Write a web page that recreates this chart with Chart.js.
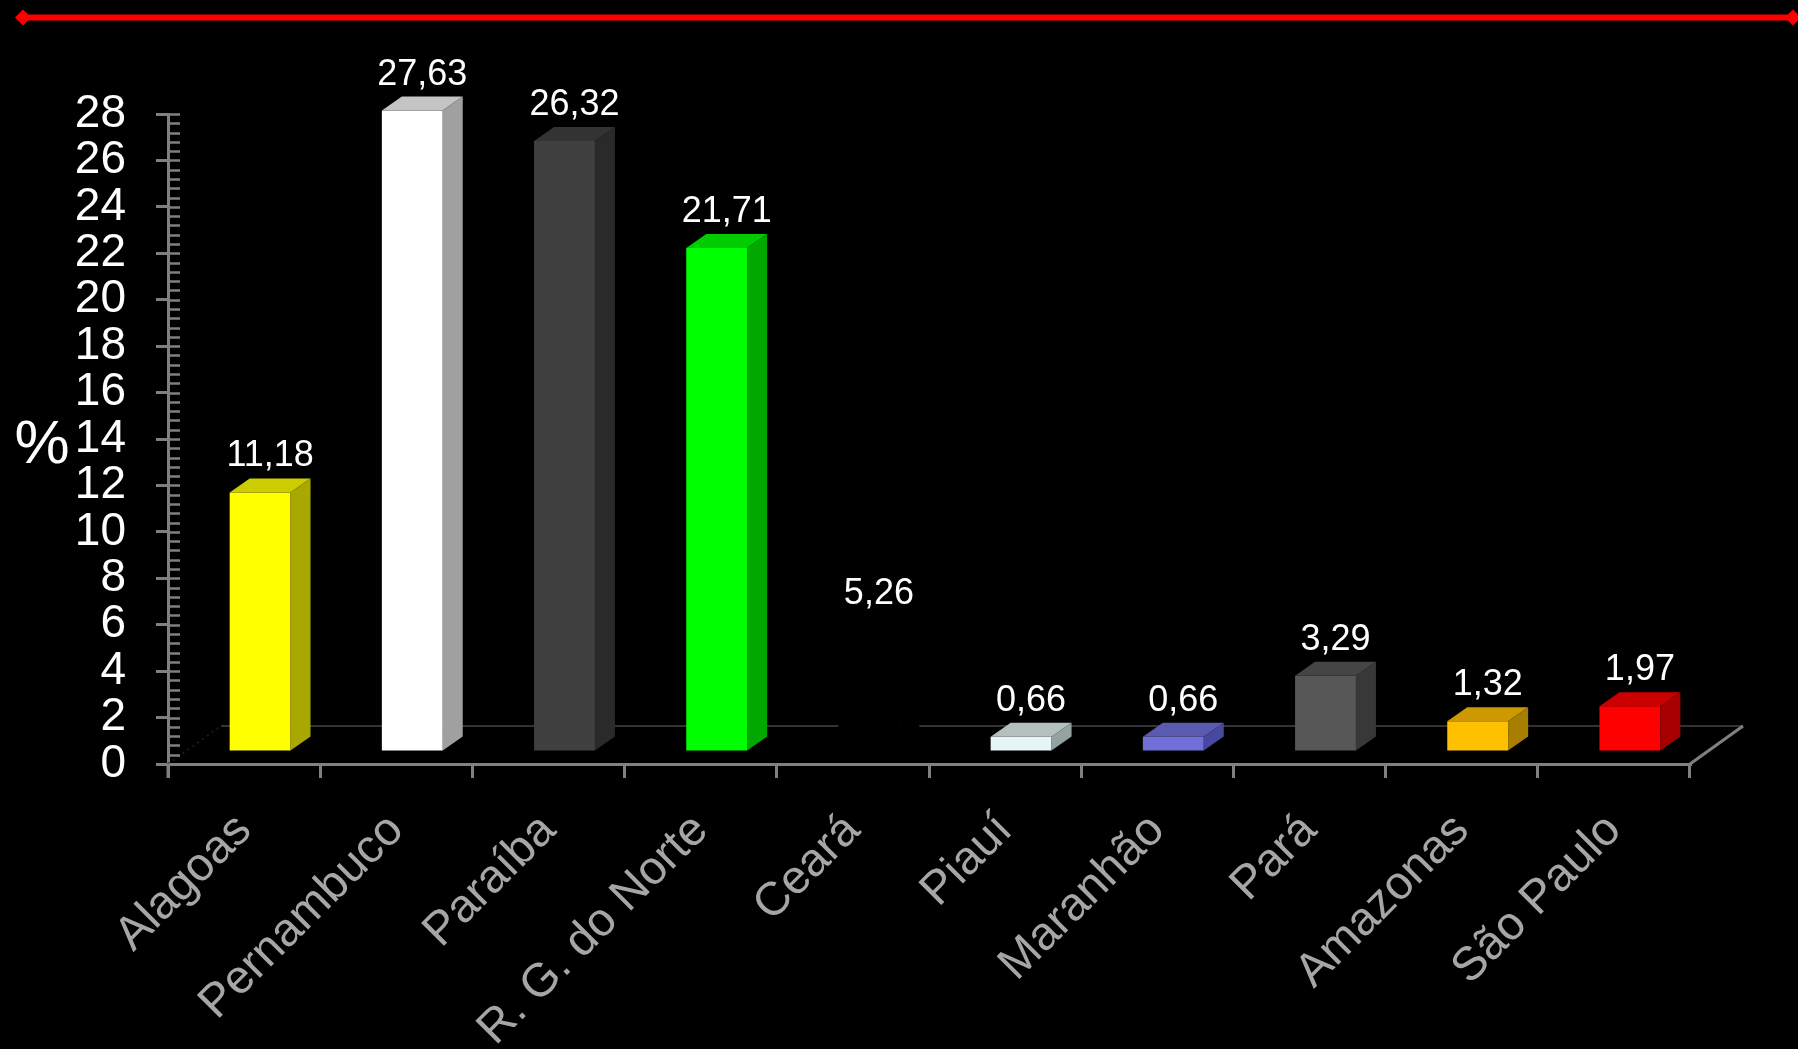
<!DOCTYPE html>
<html>
<head>
<meta charset="utf-8">
<script src="https://cdn.jsdelivr.net/npm/chart.js@4.4.1/dist/chart.umd.min.js"></script>
<style>
  html, body { margin: 0; padding: 0; background: #000; overflow: hidden; }
  canvas { display: block; }
</style>
</head>
<body>
<canvas id="c" width="1798" height="1049"></canvas>
<script>
// ---- data ----
const categories = ['Alagoas', 'Pernambuco', 'Paraíba', 'R. G. do Norte', 'Ceará', 'Piauí', 'Maranhão', 'Pará', 'Amazonas', 'São Paulo'];
const values = [11.18, 27.63, 26.32, 21.71, 5.26, 0.66, 0.66, 3.29, 1.32, 1.97];
const yMin = 0;
const yMax = 28;
const yStep = 2;
const yMinorStep = 0.4;
const yUnitLabel = '%';

// ---- styles ----
const frontColors = ['#FFFF00', '#FFFFFF', '#404040', '#00FF00', '#000000', '#E6F6F6', '#7070D8', '#575757', '#FFC000', '#FF0000'];
const topColors   = ['#CCCC00', '#C4C4C4', '#333333', '#00CC00', '#000000', '#B4C0C0', '#5A5AB0', '#454545', '#CC9A00', '#CC0000'];
const sideColors  = ['#A8A800', '#A0A0A0', '#2A2A2A', '#00A800', '#000000', '#94A2A2', '#4848A0', '#383838', '#A87E00', '#A80000'];
const FONT = "'Liberation Sans', Arial, sans-serif";
const AXIS_GRAY = '#808080';
const SHIFT_X = 16, SHIFT_Y = -12;   // front-face offset inside the floor
const DEPTH_X = 20, DEPTH_Y = -14;   // bar depth
const FLOOR_X = 53, FLOOR_Y = -38;   // floor depth

const fmt = v => v.toFixed(2).replace('.', ',');

const deco = {
  id: 'deco',
  beforeDraw(chart) {
    const ctx = chart.ctx;
    ctx.save();
    ctx.fillStyle = '#000';
    ctx.fillRect(0, 0, chart.width, chart.height);
    // red rule at top with diamonds
    ctx.strokeStyle = '#FF0000';
    ctx.fillStyle = '#FF0000';
    ctx.lineWidth = 6;
    ctx.beginPath(); ctx.moveTo(23, 17.5); ctx.lineTo(1793, 17.5); ctx.stroke();
    [23, 1793].forEach(cx => {
      ctx.beginPath();
      ctx.moveTo(cx - 8, 17.5); ctx.lineTo(cx, 9.5); ctx.lineTo(cx + 8, 17.5); ctx.lineTo(cx, 25.5);
      ctx.closePath(); ctx.fill();
    });
    ctx.restore();
  },
  beforeDatasetsDraw(chart) {
    const ctx = chart.ctx;
    const xs = chart.scales.x, ys = chart.scales.y;
    const y0 = ys.getPixelForValue(0);
    ctx.save();
    // floor back line
    ctx.strokeStyle = '#333333';
    ctx.lineWidth = 2;
    ctx.beginPath();
    ctx.moveTo(xs.left + FLOOR_X, y0 + FLOOR_Y);
    ctx.lineTo(xs.right + FLOOR_X, y0 + FLOOR_Y);
    ctx.stroke();
    // faint left floor edge
    ctx.strokeStyle = '#1c1c1c';
    ctx.setLineDash([2, 4]);
    ctx.beginPath();
    ctx.moveTo(xs.left, y0);
    ctx.lineTo(xs.left + FLOOR_X, y0 + FLOOR_Y);
    ctx.stroke();
    ctx.setLineDash([]);
    // right floor edge
    ctx.strokeStyle = AXIS_GRAY;
    ctx.lineWidth = 3;
    ctx.beginPath();
    ctx.moveTo(xs.right, y0);
    ctx.lineTo(xs.right + FLOOR_X, y0 + FLOOR_Y);
    ctx.stroke();
    ctx.restore();
    ctx.save();
    ctx.translate(SHIFT_X, SHIFT_Y);
  },
  afterDatasetsDraw(chart) {
    const ctx = chart.ctx;
    const meta = chart.getDatasetMeta(0);
    meta.data.forEach((bar, i) => {
      const half = bar.width / 2;
      const l = bar.x - half, r = bar.x + half, t = bar.y, b = bar.base;
      // top face
      ctx.fillStyle = topColors[i];
      ctx.beginPath();
      ctx.moveTo(l, t); ctx.lineTo(l + DEPTH_X, t + DEPTH_Y);
      ctx.lineTo(r + DEPTH_X, t + DEPTH_Y); ctx.lineTo(r, t);
      ctx.closePath(); ctx.fill();
      // side face
      ctx.fillStyle = sideColors[i];
      ctx.beginPath();
      ctx.moveTo(r, t); ctx.lineTo(r + DEPTH_X, t + DEPTH_Y);
      ctx.lineTo(r + DEPTH_X, b + DEPTH_Y); ctx.lineTo(r, b);
      ctx.closePath(); ctx.fill();
    });
    ctx.restore();
    // value labels
    ctx.save();
    ctx.fillStyle = '#FFFFFF';
    ctx.font = '36px ' + FONT;
    ctx.textAlign = 'center';
    ctx.textBaseline = 'alphabetic';
    meta.data.forEach((bar, i) => {
      const cx = bar.x + SHIFT_X + DEPTH_X / 2;
      const cy = bar.y + SHIFT_Y + DEPTH_Y - 12;
      ctx.fillText(fmt(values[i]), cx, cy);
    });
    ctx.restore();
  },
  afterDraw(chart) {
    const ctx = chart.ctx;
    const ys = chart.scales.y;
    const ax = ys.right;
    ctx.save();
    ctx.strokeStyle = AXIS_GRAY;
    ctx.lineWidth = 2.5;
    // minor ticks on the right side of the y axis
    for (let k = 0; k <= Math.round((yMax - yMin) / yMinorStep); k++) {
      const py = Math.round(ys.getPixelForValue(yMin + k * yMinorStep)) + 0.5;
      ctx.beginPath(); ctx.moveTo(ax, py); ctx.lineTo(ax + 12, py); ctx.stroke();
    }
    // extend y axis below the floor
    ctx.lineWidth = 3;
    ctx.beginPath(); ctx.moveTo(ax, ys.bottom); ctx.lineTo(ax, ys.bottom + 14); ctx.stroke();
    // unit label
    ctx.fillStyle = '#FFFFFF';
    ctx.font = '62px ' + FONT;
    ctx.textAlign = 'center';
    ctx.textBaseline = 'middle';
    ctx.fillText(yUnitLabel, 42, 446);
    ctx.restore();
  }
};

new Chart(document.getElementById('c'), {
  type: 'bar',
  data: {
    labels: categories,
    datasets: [{
      data: values,
      backgroundColor: frontColors,
      borderWidth: 0,
      barPercentage: 0.4,
      categoryPercentage: 1.0,
      clip: false
    }]
  },
  options: {
    responsive: false,
    animation: false,
    devicePixelRatio: 1,
    layout: { padding: { left: 0, top: 114, right: 108, bottom: 0 } },
    plugins: { legend: { display: false }, tooltip: { enabled: false }, title: { display: false } },
    scales: {
      x: {
        afterFit: s => { s.height = 285; },
        grid: { display: true, drawOnChartArea: false, drawTicks: true, tickLength: 14, color: AXIS_GRAY, lineWidth: 3, offset: true },
        border: { display: true, color: AXIS_GRAY, width: 3 },
        ticks: {
          color: '#A6A6A6',
          font: { family: FONT, size: 47 },
          minRotation: 45, maxRotation: 45,
          autoSkip: false,
          padding: 25
        }
      },
      y: {
        min: yMin, max: yMax,
        afterFit: s => { s.width = 168; },
        grid: { display: true, drawOnChartArea: false, drawTicks: true, tickLength: 12, color: AXIS_GRAY, lineWidth: 3 },
        border: { display: true, color: AXIS_GRAY, width: 3 },
        ticks: {
          stepSize: yStep,
          autoSkip: false,
          color: '#FFFFFF',
          font: { family: FONT, size: 46, lineHeight: 1 },
          padding: 30
        }
      }
    }
  },
  plugins: [deco]
});
</script>
</body>
</html>
